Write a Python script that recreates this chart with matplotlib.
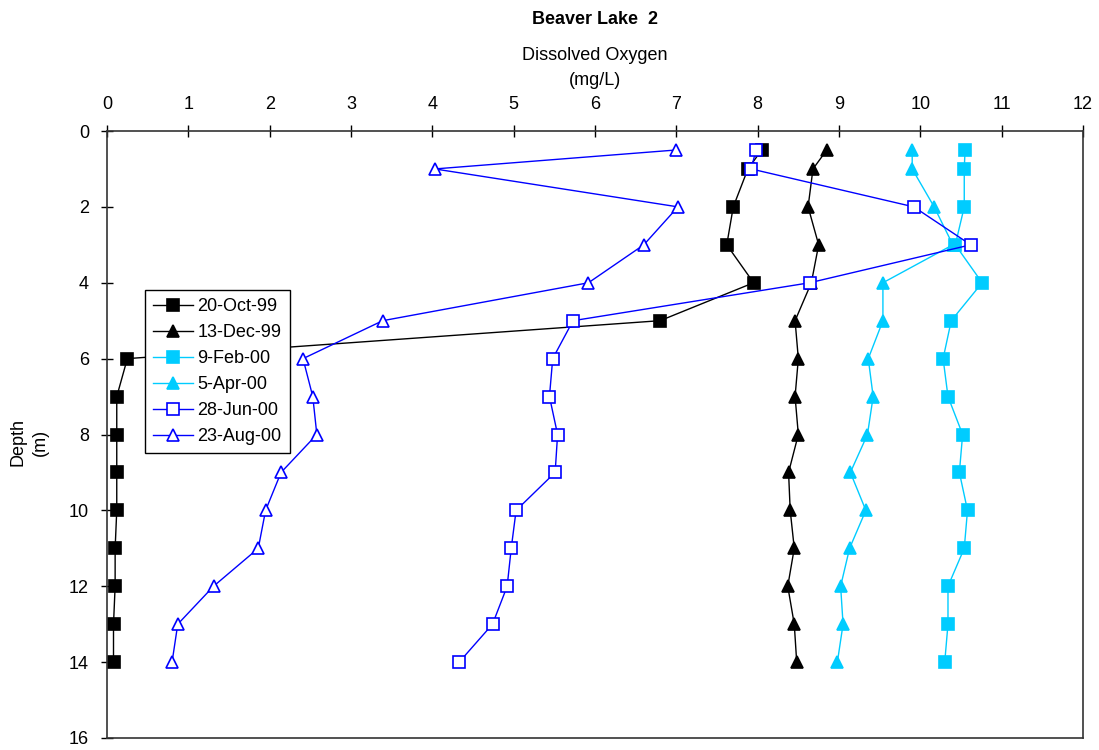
import matplotlib
matplotlib.use("Agg")
import matplotlib.pyplot as plt

plt.rcParams['font.family'] = ['Liberation Sans', 'DejaVu Sans']

depth = [0.5, 1, 2, 3, 4, 5, 6, 7, 8, 9, 10, 11, 12, 13, 14]

oct99 = [8.05, 7.88, 7.7, 7.62, 7.95, 6.8, 0.25, 0.12, 0.12, 0.12, 0.12, 0.1, 0.1, 0.08, 0.08]
dec99 = [8.85, 8.68, 8.62, 8.75, 8.66, 8.46, 8.5, 8.46, 8.5, 8.38, 8.4, 8.45, 8.37, 8.45, 8.48]
feb00 = [10.55, 10.54, 10.54, 10.43, 10.76, 10.38, 10.28, 10.34, 10.52, 10.48, 10.58, 10.54, 10.34, 10.34, 10.3]
apr00 = [9.9, 9.9, 10.17, 10.4, 9.54, 9.54, 9.36, 9.42, 9.35, 9.14, 9.33, 9.13, 9.02, 9.05, 8.98]
jun00 = [7.98, 7.92, 9.92, 10.62, 8.64, 5.73, 5.48, 5.44, 5.54, 5.51, 5.03, 4.97, 4.92, 4.74, 4.33]
aug00 = [7.0, 4.03, 7.02, 6.6, 5.92, 3.39, 2.41, 2.53, 2.58, 2.14, 1.95, 1.86, 1.31, 0.87, 0.8]

labels = ['20-Oct-99', '13-Dec-99', '9-Feb-00', '5-Apr-00', '28-Jun-00', '23-Aug-00']
x_ticks = list(range(0, 13))
y_ticks = list(range(0, 17, 2))

BLACK = '#000000'
CYAN = '#00CCFF'
BLUE = '#0000FF'
FS = 13

fig = plt.figure(figsize=(10.99, 7.5), dpi=100)
ax = fig.add_axes([107 / 1099, 12 / 750, 976 / 1099, 607 / 750])

series = [
    (oct99, BLACK, 's', BLACK),
    (dec99, BLACK, '^', BLACK),
    (feb00, CYAN, 's', CYAN),
    (apr00, CYAN, '^', CYAN),
    (jun00, BLUE, 's', 'white'),
    (aug00, BLUE, '^', 'white'),
]

for (vals, col, mk, face), lab in zip(series, labels):
    ax.plot(vals, depth, color=col, lw=1.0, marker=mk, markersize=8,
            markerfacecolor=face, markeredgecolor=col, markeredgewidth=1.2,
            label=lab)

ax.set_xlim(0, 12)
ax.set_ylim(16, 0)
ax.set_xticks(x_ticks)
ax.set_yticks(y_ticks)
ax.xaxis.tick_top()
ax.tick_params(axis='both', direction='inout', length=8, width=1,
               labelsize=FS, pad=9)
for sp in ax.spines.values():
    sp.set_linewidth(1.2)
    sp.set_color('#333333')

leg = ax.legend(loc='upper left', bbox_to_anchor=(0.039, 0.738),
                borderaxespad=0, fancybox=False, edgecolor='black',
                framealpha=1, fontsize=FS, handlelength=2.2,
                handletextpad=0.25, labelspacing=0.5, borderpad=0.45)
leg.get_frame().set_linewidth(1.0)

fig.text(595 / 1099, 1 - 20 / 750, 'Beaver Lake  2', ha='center', va='center',
         fontsize=FS, fontweight='bold')
fig.text(595 / 1099, 1 - 68 / 750, 'Dissolved Oxygen\n(mg/L)', ha='center',
         va='center', fontsize=FS, linespacing=1.55)
fig.text(29 / 1099, 1 - 442 / 750, 'Depth\n(m)', ha='center', va='center',
         rotation=90, fontsize=FS, linespacing=1.4)

fig.savefig('out.png', dpi=100)
